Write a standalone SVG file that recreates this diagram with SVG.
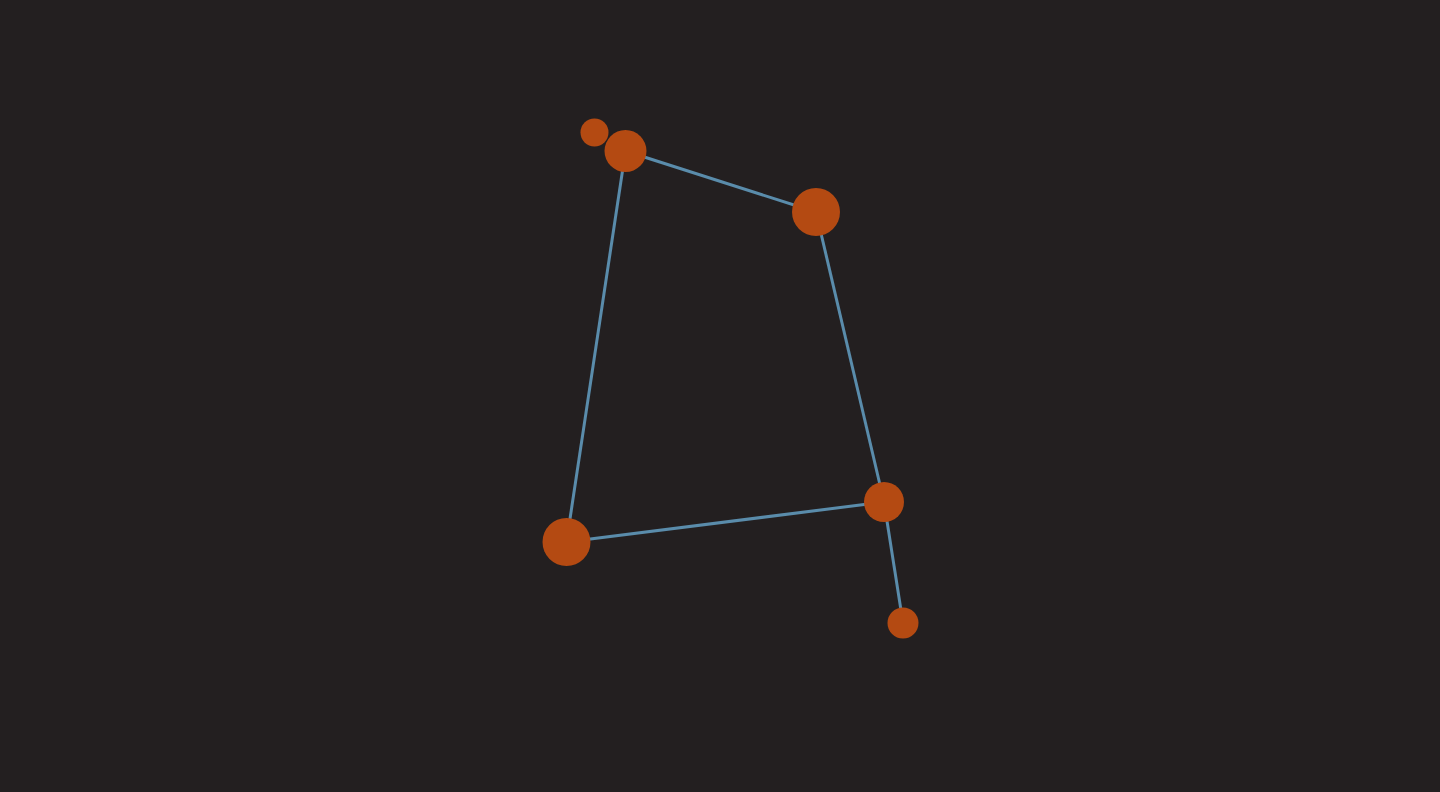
<svg xmlns="http://www.w3.org/2000/svg" width="1440" height="792" viewBox="0 0 1440 792">
<style>
.edge{stroke:#5a8cab;stroke-width:3;fill:none}
.node{fill:#b44a12}
</style>
<rect width="1440" height="792" fill="#231f20"/>
<g id="connectors">
<line class="edge" x1="625.5" y1="151" x2="816" y2="212"/>
<line class="edge" x1="816" y1="212" x2="884" y2="502"/>
<line class="edge" x1="884" y1="502" x2="566.5" y2="542"/>
<line class="edge" x1="566.5" y1="542" x2="625.5" y2="151"/>
<line class="edge" x1="884" y1="502" x2="903" y2="623"/>
</g>
<g id="n1"><circle class="node" cx="594.5" cy="132.5" r="14"/></g>
<g id="n2"><circle class="node" cx="625.5" cy="151" r="21"/></g>
<g id="n3"><circle class="node" cx="816" cy="212" r="24"/></g>
<g id="n4"><circle class="node" cx="884" cy="502" r="20"/></g>
<g id="n5"><circle class="node" cx="566.5" cy="542" r="24"/></g>
<g id="n6"><circle class="node" cx="903" cy="623" r="15.5"/></g>
</svg>
